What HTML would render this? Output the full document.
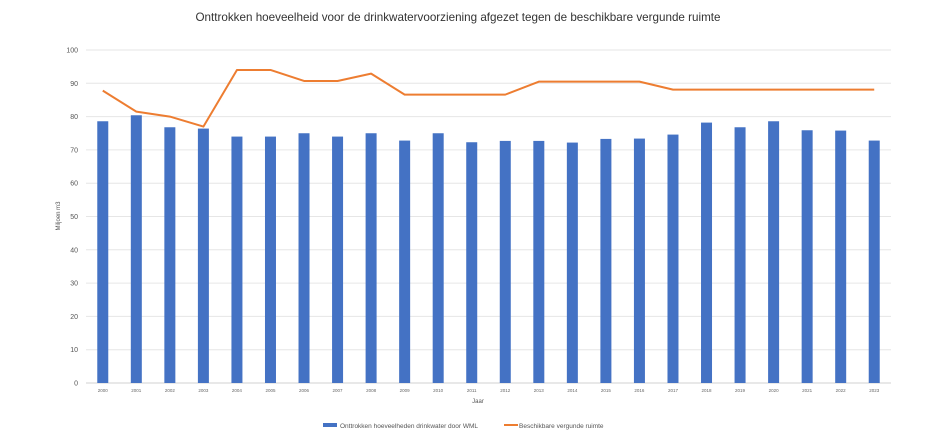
<!DOCTYPE html>
<html><head><meta charset="utf-8"><style>
body{margin:0;background:#fff;font-family:"Liberation Sans",sans-serif}
svg{display:block}
</style></head><body>
<svg id="chart" width="928" height="438" viewBox="0 0 928 438" xmlns="http://www.w3.org/2000/svg">
<text x="458" y="21" text-anchor="middle" font-size="11.8" fill="#333" textLength="525" lengthAdjust="spacingAndGlyphs">Onttrokken hoeveelheid voor de drinkwatervoorziening afgezet tegen de beschikbare vergunde ruimte</text>
<g id="grid"></g><g id="bars"></g><g id="line"></g><g id="xlabels"></g>
<text transform="translate(60,216) rotate(-90)" text-anchor="middle" font-size="6" fill="#555">Miljoen m3</text>
<text x="478" y="403" text-anchor="middle" font-size="6" fill="#555">Jaar</text>
<g>
<rect x="323" y="423" width="14" height="4" fill="#4472c4"/>
<text x="340" y="428" font-size="6.5" fill="#555">Onttrokken hoeveelheden drinkwater door WML</text>
<line x1="504" y1="425" x2="518" y2="425" stroke="#ed7d31" stroke-width="2"/>
<text x="519" y="428" font-size="6.5" fill="#555">Beschikbare vergunde ruimte</text>
</g>
</svg>
<script>
const years=["2000","2001","2002","2003","2004","2005","2006","2007","2008","2009","2010","2011","2012","2013","2014","2015","2016","2017","2018","2019","2020","2021","2022","2023"];
const withdrawn=[78.6,80.4,76.8,76.4,74,74,75,74,75,72.8,75,72.3,72.7,72.7,72.2,73.3,73.4,74.6,78.2,76.8,78.6,75.9,75.8,72.8];
const permitted=[87.8,81.5,80,77,94,94,90.7,90.7,92.9,86.6,86.6,86.6,86.6,90.5,90.5,90.5,90.5,88.1,88.1,88.1,88.1,88.1,88.1,88.1];
const yTicks=[0,10,20,30,40,50,60,70,80,90,100];
const NS="http://www.w3.org/2000/svg";
const x0=86,x1=891,y0=383,y1=50;
const step=(x1-x0)/years.length;
const xs=i=>x0+step*(i+0.5);
const ys=v=>y0-(v/100)*(y0-y1);
function mk(t,a,p){const e=document.createElementNS(NS,t);for(const k in a)e.setAttribute(k,a[k]);p.appendChild(e);return e;}
const grid=document.getElementById('grid');
yTicks.forEach(v=>{
 const l=mk('line',{x1:x0,x2:x1,y1:ys(v),y2:ys(v),stroke:v===0?'#d0d0d0':'#e6e6e6','stroke-width':1},grid);
 
 
 const t=mk('text',{x:78,y:ys(v)+2.5,'text-anchor':'end','font-size':7,fill:'#555'},grid);
 t.textContent=v;
 
 
});
const bars=document.getElementById('bars'),xl=document.getElementById('xlabels');
years.forEach((y,i)=>{
 const b=mk('rect',{x:xs(i)-5.5,y:ys(withdrawn[i]),width:11,height:y0-ys(withdrawn[i]),fill:'#4472c4'},bars);
 
 
 const t=mk('text',{x:xs(i),y:392,'text-anchor':'middle','font-size':4.5,fill:'#666'},xl);
 t.textContent=y;
 
 
});
const p=mk('polyline',{points:permitted.map((v,i)=>xs(i)+','+ys(v)).join(' '),fill:'none',stroke:'#ed7d31','stroke-width':2,'stroke-linejoin':'round'},document.getElementById('line'));


</script>
</body></html>
